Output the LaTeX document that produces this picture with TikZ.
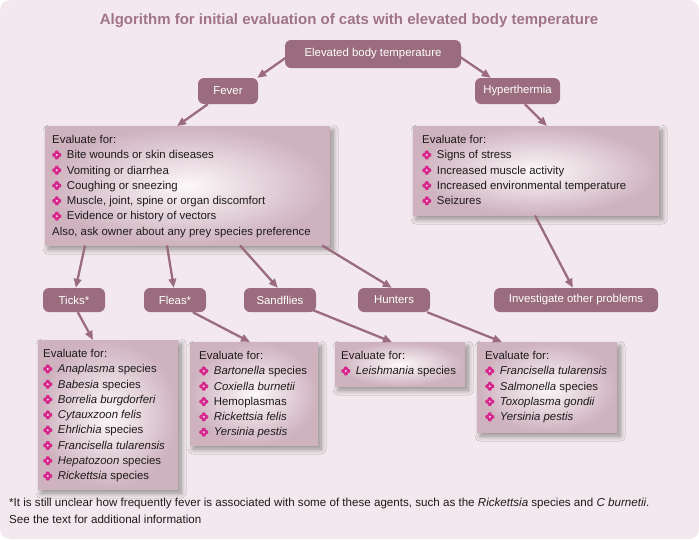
\documentclass[tikz,border=0pt]{standalone}
\usepackage{fontspec}
\setmainfont{Liberation Sans}
\usetikzlibrary{arrows.meta,shadows.blur}
\definecolor{bg}{RGB}{242,232,237}
\definecolor{mauve}{RGB}{155,108,126}
\definecolor{titlecol}{RGB}{160,116,133}
\definecolor{boxout}{RGB}{206,178,190}
\definecolor{boxin}{RGB}{252,248,250}
\definecolor{bulcol}{RGB}{214,40,140}
\definecolor{txt}{RGB}{30,26,28}
\newcommand\bul{\tikz[x=1pt,y=1pt,baseline={(0,-3.8pt)}]{\fill[bulcol] (0,2.5) circle (2.1) (0,-2.5) circle (2.1) (2.5,0) circle (2.1) (-2.5,0) circle (2.1); \fill[bulcol!20] (0,0) circle (1.1);}\hspace{5.5pt}}
\newcommand\bfont{\fontsize{11.4}{15.3}\selectfont}
\begin{document}
\begin{tikzpicture}[x=1pt,y=-1pt,
  pill/.style={fill=mauve, text=white, rounded corners=6pt, inner sep=0pt, font=\bfont},
  ebox/.style={anchor=north west, inner xsep=7pt, inner ysep=9pt, text=txt, font=\bfont,
     shade, shading=radial, inner color=boxin, outer color=boxout,
     blur shadow={shadow xshift=3pt, shadow yshift=-4pt, shadow blur radius=5pt, shadow blur steps=12, shadow opacity=40}},
  arr/.style={draw=mauve, line width=2.3pt, -{Triangle[length=9pt,width=7.5pt]}}]
\useasboundingbox (0,0) rectangle (699,539);
\fill[bg, rounded corners=10pt] (0,0) rectangle (699,539);
\node[font=\fontsize{15}{18}\selectfont\bfseries, text=titlecol] (title) at (349,21) {Algorithm for initial evaluation of cats with elevated body temperature};

\node[pill, minimum width=176pt, minimum height=28pt] (top) at (373,54) {Elevated body temperature};
\node[pill, minimum width=60pt, minimum height=26pt] (fever) at (228,91) {Fever};
\node[pill, minimum width=85pt, minimum height=26pt] (hyper) at (517.5,91) {Hyperthermia};

\node[ebox] (fbox) at (45,126) {\parbox[c][101pt][t]{271pt}{\raggedright
Evaluate for:\par
\bul Bite wounds or skin diseases\par
\bul Vomiting or diarrhea\par
\bul Coughing or sneezing\par
\bul Muscle, joint, spine or organ discomfort\par
\bul Evidence or history of vectors\par
Also, ask owner about any prey species preference}};

\node[ebox, inner xsep=9pt] (hbox) at (413,126) {\parbox[c][71pt][t]{228pt}{\raggedright
Evaluate for:\par
\bul Signs of stress\par
\bul Increased muscle activity\par
\bul Increased environmental temperature\par
\bul Seizures}};

\node[pill, minimum width=62pt, minimum height=24pt] (ticks) at (74,300) {Ticks*};
\node[pill, minimum width=62pt, minimum height=24pt] (fleas) at (175,300) {Fleas*};
\node[pill, minimum width=72pt, minimum height=24pt] (sand) at (280,300) {Sandflies};
\node[pill, minimum width=72pt, minimum height=24pt] (hunt) at (394,300) {Hunters};
\node[pill, minimum width=164pt, minimum height=24pt] (inv) at (576,300) {Investigate other problems};

\node[ebox, inner xsep=5pt] (tbox) at (38,340) {\parbox[c][131pt][t]{130pt}{\raggedright
Evaluate for:\par
\bul \textit{Anaplasma} species\par
\bul \textit{Babesia} species\par
\bul \textit{Borrelia burgdorferi}\par
\bul \textit{Cytauxzoon felis}\par
\bul \textit{Ehrlichia} species\par
\bul \textit{Francisella tularensis}\par
\bul \textit{Hepatozoon} species\par
\bul \textit{Rickettsia} species}};

\node[ebox, inner xsep=9pt] (flbox) at (190,342) {\parbox[c][85pt][t]{110pt}{\raggedright
Evaluate for:\par
\bul \textit{Bartonella} species\par
\bul \textit{Coxiella burnetii}\par
\bul Hemoplasmas\par
\bul \textit{Rickettsia felis}\par
\bul \textit{Yersinia pestis}}};

\node[ebox, inner xsep=6pt] (lbox) at (335,342) {\parbox[c][26pt][t]{118pt}{\raggedright
Evaluate for:\par
\bul \textit{Leishmania} species}};

\node[ebox, inner xsep=8pt] (hubox) at (477,342) {\parbox[c][72pt][t]{124pt}{\raggedright
Evaluate for:\par
\bul \textit{Francisella tularensis}\par
\bul \textit{Salmonella} species\par
\bul \textit{Toxoplasma gondii}\par
\bul \textit{Yersinia pestis}}};

\node[anchor=north west, inner sep=0pt, text=txt, font=\fontsize{11.6}{16.5}\selectfont, align=left] (foot) at (9,498)
{*It is still unclear how frequently fever is associated with some of these agents, such as the \textit{Rickettsia} species and \textit{C burnetii}.\\
See the text for additional information};

\draw[arr] ([xshift=2pt,yshift=-3pt]top.west) -- ([xshift=-1pt]fever.north east);
\draw[arr] ([xshift=-1pt,yshift=-3pt]top.east) -- ([xshift=16pt]hyper.north west);
\draw[arr] ([xshift=10pt]fever.south west) -- ([xshift=132pt]fbox.north west);
\draw[arr] ([xshift=50pt]hyper.south west) -- ([xshift=134pt]hbox.north west);
\draw[arr] ([xshift=40pt]fbox.south west) -- ([xshift=33pt]ticks.north west);
\draw[arr] ([xshift=122pt]fbox.south west) -- ([xshift=30pt]fleas.north west);
\draw[arr] ([xshift=195pt]fbox.south west) -- ([xshift=34pt]sand.north west);
\draw[arr] ([xshift=277pt]fbox.south west) -- ([xshift=34pt]hunt.north west);
\draw[arr] ([xshift=122pt]hbox.south west) -- ([xshift=79pt]inv.north west);
\draw[arr] ([xshift=35pt]ticks.south west) -- ([xshift=55pt]tbox.north west);
\draw[arr] ([xshift=49pt]fleas.south west) -- ([xshift=60pt]flbox.north west);
\draw[arr] ([xshift=-3pt,yshift=2pt]sand.south east) -- ([xshift=57pt]lbox.north west);
\draw[arr] ([xshift=-3pt]hunt.south east) -- ([xshift=25pt]hubox.north west);
\end{tikzpicture}
\end{document}
